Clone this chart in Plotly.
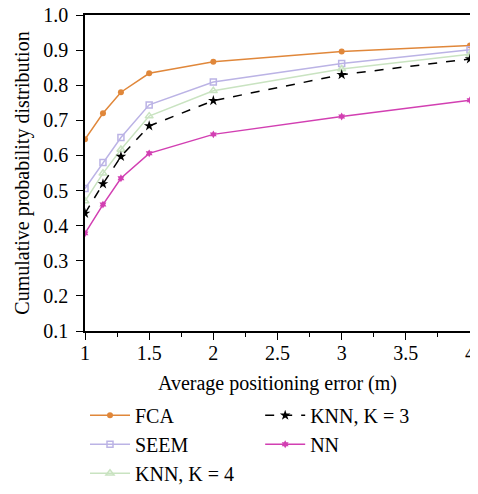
import plotly.graph_objects as go

x_err = [1, 1.14, 1.28, 1.5, 2, 3, 4]
fca = [0.646, 0.720, 0.780, 0.834, 0.867, 0.896, 0.913]
seem = [0.506, 0.580, 0.651, 0.744, 0.809, 0.862, 0.901]
knn4 = [0.470, 0.549, 0.617, 0.712, 0.784, 0.846, 0.888]
knn3 = [0.435, 0.519, 0.597, 0.684, 0.756, 0.830, 0.875]
nn = [0.378, 0.460, 0.535, 0.606, 0.660, 0.711, 0.757]

x_ticks = [1, 1.5, 2, 2.5, 3, 3.5, 4]
x_tick_text = ["1", "1.5", "2", "2.5", "3", "3.5", "4"]
y_ticks = [0.1, 0.2, 0.3, 0.4, 0.5, 0.6, 0.7, 0.8, 0.9, 1.0]
y_tick_text = ["0.1", "0.2", "0.3", "0.4", "0.5", "0.6", "0.7", "0.8", "0.9", "1.0"]

FONT = "Liberation Serif"
FS = 20

fig = go.Figure()
fig.add_trace(go.Scatter(x=x_err, y=fca, name="FCA", mode="lines+markers",
                         line=dict(color="#E0873A", width=1.5),
                         marker=dict(symbol="circle", size=6, color="#E0873A"),
                         legend="legend", legendgroup="a"))
fig.add_trace(go.Scatter(x=x_err, y=seem, name="SEEM", mode="lines+markers",
                         line=dict(color="#BBB3E5", width=1.5),
                         marker=dict(symbol="square-open", size=6, color="#BBB3E5", line=dict(width=1.5)),
                         legend="legend", legendgroup="b"))
fig.add_trace(go.Scatter(x=x_err, y=knn4, name="KNN, K = 4", mode="lines+markers",
                         line=dict(color="#C9E3C1", width=1.5),
                         marker=dict(symbol="triangle-up-open", size=7, color="#C9E3C1", line=dict(width=1.5)),
                         legend="legend", legendgroup="c"))
fig.add_trace(go.Scatter(x=x_err, y=knn3, name="KNN, K = 3", mode="lines+markers",
                         line=dict(color="black", width=1.5, dash="dash"),
                         marker=dict(symbol="star", size=8, color="black"),
                         legend="legend2", legendgroup="d"))
fig.add_trace(go.Scatter(x=x_err, y=nn, name="NN", mode="lines+markers",
                         line=dict(color="#D23FB2", width=1.5),
                         marker=dict(symbol="hexagram", size=6, color="#D23FB2"),
                         legend="legend2", legendgroup="e"))

axis_common = dict(showline=True, linecolor="black", linewidth=1.5, mirror=True,
                   ticks="outside", ticklen=7, tickwidth=1.2, tickcolor="black",
                   showgrid=False, zeroline=False, automargin=False,
                   ticklabeloverflow="allow",
                   tickfont=dict(family=FONT, size=FS, color="black"))

fig.update_xaxes(range=[1, 4], tickvals=x_ticks, ticktext=x_tick_text,
                 minor=dict(tickvals=[1.25, 1.75, 2.25, 2.75, 3.25, 3.75], ticks="outside",
                            ticklen=4, tickcolor="black", tickwidth=1.2),
                 ticklabelstandoff=-4,
                 title=dict(text="Average positioning error (m)", font=dict(family=FONT, size=FS, color="black"),
                            standoff=13),
                 **axis_common)
fig.update_yaxes(range=[0.1, 1.0], tickvals=y_ticks, ticktext=y_tick_text,
                 ticklabelstandoff=4,
                 title=dict(text="Cumulative probability distribution", font=dict(family=FONT, size=FS, color="black"),
                            standoff=8),
                 **axis_common)

legend_common = dict(font=dict(family=FONT, size=FS, color="black"), bgcolor="rgba(0,0,0,0)",
                     orientation="v", xanchor="left", yanchor="top", itemwidth=40, tracegroupgap=0)
fig.update_layout(
    width=462, height=478,
    margin=dict(l=77, r=0, t=7, b=155, autoexpand=False),
    plot_bgcolor="white", paper_bgcolor="white",
    legend=dict(x=0.0, y=-0.205, **legend_common),
    legend2=dict(x=0.455, y=-0.205, **legend_common),
    font=dict(family=FONT, size=FS, color="black"),
)

fig.write_html("out.html")
